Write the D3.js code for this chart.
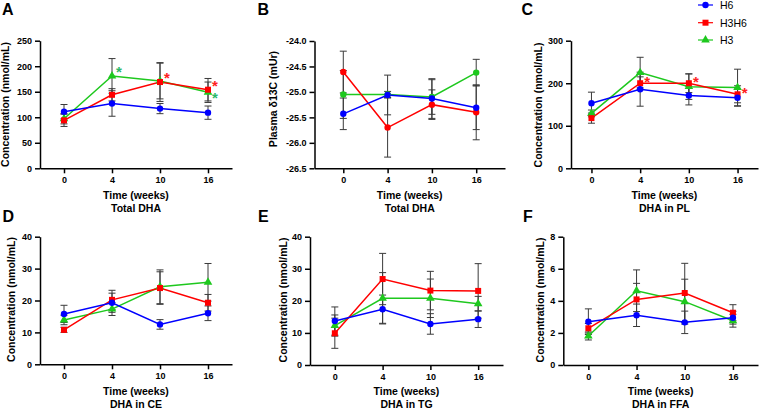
<!DOCTYPE html>
<html>
<head>
<meta charset="utf-8">
<script src="https://cdn.jsdelivr.net/npm/d3@7"></script>
<style>
  html, body { margin: 0; padding: 0; background: #fff; }
  svg { display: block; }
  text { font-family: "Liberation Sans", Arial, sans-serif; }
</style>
</head>
<body>
<svg id="chart" width="765" height="410"></svg>
<script>
// ---------------- DATA ----------------
const timeLabels = ["0", "4", "10", "16"];
const seriesNames = ["H6", "H3H6", "H3"];

// each: [H6, H3H6, H3]
const totalDHA_mean = [[111, 127, 117, 109], [94, 144, 169, 154], [97, 181, 171, 149]];
const totalDHA_sd   = [[14, 25, 10, 13], [12, 12, 38, 22], [10, 34, 35, 20]];

const delta13C_mean = [[-25.43, -25.06, -25.13, -25.31], [-24.61, -25.70, -25.25, -25.40], [-25.05, -25.05, -25.10, -24.62]];
const delta13C_sd   = [[0.31, 0.39, 0.39, 0.43], [0.41, 0.58, 0.29, 0.54], [0.47, 0.06, 0.34, 0.26]];

const dhaPL_mean = [[153, 186, 171, 166], [118, 200, 200, 174], [129, 225, 192, 190]];
const dhaPL_sd   = [[26, 40, 22, 20], [12, 15, 22, 20], [8, 36, 30, 43]];

const dhaCE_mean = [[15.8, 19.3, 12.5, 16.0], [10.8, 20.2, 23.9, 19.3], [13.9, 17.3, 24.3, 25.7]];
const dhaCE_sd   = [[2.7, 3.0, 1.5, 2.3], [0.8, 3.0, 5.1, 2.6], [1.5, 2.0, 5.3, 5.9]];

const dhaTG_mean = [[13.7, 17.4, 12.8, 14.3], [9.9, 26.8, 23.2, 23.1], [12.3, 20.8, 20.8, 19.1]];
const dhaTG_sd   = [[4.4, 4.4, 3.2, 2.6], [4.7, 8.0, 6.0, 8.5], [3.3, 8.0, 6.0, 2.3]];

const dhaFFA_mean = [[2.70, 3.10, 2.66, 2.95], [2.29, 4.09, 4.49, 3.26], [1.81, 4.63, 3.95, 2.76]];
const dhaFFA_sd   = [[0.80, 0.70, 0.70, 0.40], [0.30, 1.00, 1.85, 0.50], [0.25, 1.30, 1.40, 0.40]];

const ticksA = [0, 50, 100, 150, 200, 250];
const ticksB = [-26.5, -26.0, -25.5, -25.0, -24.5, -24.0];
const ticksC = [0, 100, 200, 300];
const ticksDE = [0, 10, 20, 30, 40];
const ticksF = [0, 2, 4, 6, 8];

// significance marks: panel, series index, time index, placement
const stars = [
  ["A", 2, 1, "above"], ["A", 1, 2, "above"], ["A", 1, 3, "above"], ["A", 2, 3, "below"],
  ["C", 1, 1, "above"], ["C", 1, 2, "above"], ["C", 1, 3, "above"]
];

// ---------------- STYLE / LAYOUT ----------------
const colors = ["#0000ff", "#ff0000", "#1ec81e"];
const starColors = ["#0000ff", "#ff2020", "#2db86a"];
const shapes = [d3.symbolCircle, d3.symbolSquare, d3.symbolTriangle];
const shapeSizes = [32, 36, 32];

const panels = [
  {id: "A", mean: totalDHA_mean, sd: totalDHA_sd, ticks: ticksA, dom: [0, 250], fmt: d => String(d),
   x0: 40, x1: 232, pad: 0.5, yTop: 40.7, yBot: 168.3, ylab: "Concentration (nmol/mL)", ylx: 9, yly: 104.5,
   sub: "Total DHA", lx: 2, ly: 15, starUp: -7},
  {id: "B", mean: delta13C_mean, sd: delta13C_sd, ticks: ticksB, dom: [-26.5, -24.0], fmt: d => d.toFixed(1),
   x0: 314.5, x1: 505, pad: 0.65, yTop: 41, yBot: 168.3, ylab: "Plasma δ13C (mUr)", ylx: 276.5, yly: 99,
   sub: "Total DHA", lx: 257.5, ly: 15, allCircles: true},
  {id: "C", mean: dhaPL_mean, sd: dhaPL_sd, ticks: ticksC, dom: [0, 300], fmt: d => String(d),
   x0: 571, x1: 758, pad: 0.42, yTop: 40.7, yBot: 168.3, ylab: "Concentration (nmol/mL)", ylx: 541.5, yly: 105,
   sub: "DHA in PL", lx: 521.5, ly: 15, starUp: -4.5},
  {id: "D", mean: dhaCE_mean, sd: dhaCE_sd, ticks: ticksDE, dom: [0, 40], fmt: d => String(d),
   x0: 40, x1: 232, pad: 0.5, yTop: 236.7, yBot: 364.3, ylab: "Concentration (nmol/mL)", ylx: 14.5, yly: 299.5,
   sub: "DHA in CE", lx: 2.5, ly: 221.7},
  {id: "E", mean: dhaTG_mean, sd: dhaTG_sd, ticks: ticksDE, dom: [0, 40], fmt: d => String(d),
   x0: 310, x1: 503, pad: 0.52, yTop: 236.7, yBot: 365, ylab: "Concentration (nmol/mL)", ylx: 287, yly: 300,
   sub: "DHA in TG", lx: 258, ly: 221.7},
  {id: "F", mean: dhaFFA_mean, sd: dhaFFA_sd, ticks: ticksF, dom: [0, 8], fmt: d => String(d),
   x0: 563.3, x1: 758, pad: 0.52, yTop: 236.7, yBot: 365, ylab: "Concentration (nmol/mL)", ylx: 544, yly: 300,
   sub: "DHA in FFA", lx: 523, ly: 221.7}
];

const svg = d3.select("#chart");
svg.append("rect").attr("width", 765).attr("height", 410).attr("fill", "#fff");

panels.forEach(p => {
  const g = svg.append("g");
  const x = d3.scalePoint().domain(timeLabels).range([p.x0, p.x1]).padding(p.pad);
  const y = d3.scaleLinear().domain(p.dom).range([p.yBot, p.yTop]);

  // axes
  const xa = g.append("g").attr("transform", `translate(0,${p.yBot})`)
    .call(d3.axisBottom(x).tickSize(5).tickSizeOuter(0).tickPadding(3.5));
  const ya = g.append("g").attr("transform", `translate(${p.x0},0)`)
    .call(d3.axisLeft(y).tickValues(p.ticks).tickFormat(p.fmt).tickSize(5).tickSizeOuter(0).tickPadding(3));
  [xa, ya].forEach(a => {
    a.selectAll("path, line").attr("stroke", "#000").attr("stroke-width", 1.5);
    a.selectAll("text").attr("fill", "#000").attr("font-size", "9px").attr("font-weight", "bold")
      .style("font-family", "'Liberation Sans', Arial, sans-serif");
  });

  // axis titles
  const cx = (p.x0 + p.x1) / 2;
  g.append("text").attr("x", cx).attr("y", p.yBot + 30.2).attr("text-anchor", "middle")
    .attr("font-size", "10.5px").attr("font-weight", "bold").text("Time (weeks)");
  g.append("text").attr("x", cx).attr("y", p.yBot + 43.2).attr("text-anchor", "middle")
    .attr("font-size", "10.5px").attr("font-weight", "bold").text(p.sub);
  g.append("text").attr("transform", `translate(${p.ylx},${p.yly}) rotate(-90)`).attr("text-anchor", "middle")
    .attr("font-size", "10.5px").attr("font-weight", "bold").text(p.ylab);

  // panel letter
  g.append("text").attr("x", p.lx).attr("y", p.ly).attr("font-size", "16px").attr("font-weight", "bold").text(p.id);

  // error bars
  const capW = 3.5;
  p.mean.forEach((m, s) => {
    const eg = g.append("g").attr("stroke", "#3a3a3a").attr("stroke-width", 1).attr("fill", "none");
    m.forEach((v, i) => {
      const sd = p.sd[s][i];
      const xi = x(timeLabels[i]);
      const yh = y(v + sd), yl = y(v - sd);
      eg.append("line").attr("x1", xi).attr("x2", xi).attr("y1", yh).attr("y2", yl);
      eg.append("line").attr("x1", xi - capW).attr("x2", xi + capW).attr("y1", yh).attr("y2", yh);
      eg.append("line").attr("x1", xi - capW).attr("x2", xi + capW).attr("y1", yl).attr("y2", yl);
    });
  });

  const order = [2, 1, 0];
  order.forEach(s => {
    const m = p.mean[s];
    const line = d3.line().x((d, i) => x(timeLabels[i])).y(d => y(d));
    g.append("path").datum(m).attr("d", line).attr("fill", "none")
      .attr("stroke", colors[s]).attr("stroke-width", 1.5);
  });
  order.forEach(s => {
    const m = p.mean[s];
    const shp = p.allCircles ? d3.symbolCircle : shapes[s];
    const size = p.allCircles ? 32 : shapeSizes[s];
    g.selectAll(null).data(m).enter().append("path")
      .attr("transform", (d, i) => `translate(${x(timeLabels[i])},${y(d)})`)
      .attr("d", d3.symbol().type(shp).size(size))
      .attr("fill", colors[s]);
  });

  // asterisks
  stars.filter(st => st[0] === p.id).forEach(st => {
    const [, s, i, place] = st;
    const px = x(timeLabels[i]) + 7;
    const cy = y(p.mean[s][i]) + (place === "above" ? p.starUp : 2);
    g.append("text").attr("x", px).attr("y", cy + 8.3).attr("text-anchor", "middle")
      .attr("font-size", "15px").attr("font-weight", "bold").attr("fill", starColors[s]).text("*");
  });
});

// legend
const lg = svg.append("g");
const legY = [5, 22.7, 40];
seriesNames.forEach((name, s) => {
  const yy = legY[s];
  lg.append("line").attr("x1", 698).attr("x2", 713).attr("y1", yy).attr("y2", yy)
    .attr("stroke", colors[s]).attr("stroke-width", 1.2);
  lg.append("path").attr("transform", `translate(705.5,${yy})`)
    .attr("d", d3.symbol().type(shapes[s]).size(shapeSizes[s])).attr("fill", colors[s]);
  lg.append("text").attr("x", 720).attr("y", yy + 3.8).attr("font-size", "10.5px").attr("fill", "#000").text(name);
});
</script>
</body>
</html>
